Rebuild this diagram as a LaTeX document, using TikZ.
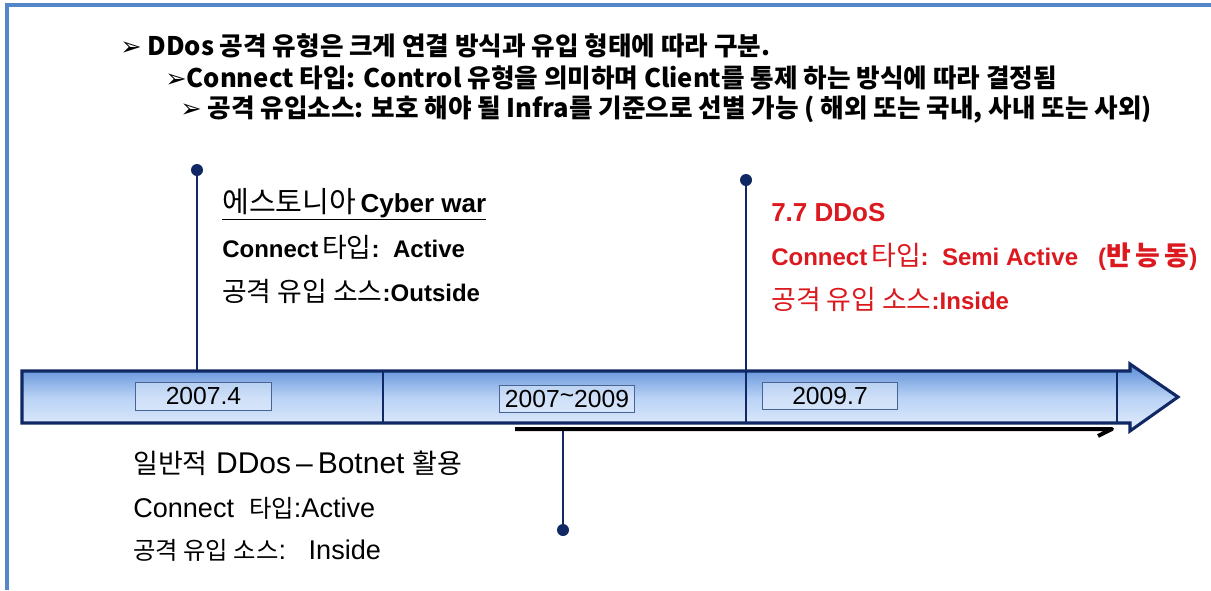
\documentclass[tikz,border=0pt]{standalone}
\usepackage{fontspec}
\setmainfont{Liberation Sans}
\newfontfamily\kr{Noto Sans CJK KR}
\newfontfamily\krA{Noto Sans CJK KR}[Scale=1.12]
\newfontfamily\krB{Noto Sans CJK KR}[Scale=0.9]
\newfontfamily\ar{Liberation Sans}
\newfontfamily\djv{DejaVu Sans}
\definecolor{navy}{RGB}{16,40,100}
\definecolor{framec}{RGB}{85,135,200}
\definecolor{redt}{RGB}{220,25,30}
\definecolor{barTop}{RGB}{90,140,215}
\definecolor{barMid}{RGB}{185,210,245}
\definecolor{barBot}{RGB}{228,238,252}
\definecolor{boxc}{RGB}{70,100,150}
\tikzset{
  hdr/.style={anchor=west, inner sep=0pt, font=\kr\bfseries\fontsize{19.2}{22}\selectfont},
  blk/.style={anchor=west, inner sep=0pt, font=\fontsize{18}{21}\selectfont},
  ttl/.style={anchor=west, inner sep=0pt, font=\fontsize{19.5}{22}\selectfont},
  blkB/.style={anchor=west, inner sep=0pt, font=\fontsize{20.3}{23}\selectfont},
  ttlB/.style={anchor=west, inner sep=0pt, font=\fontsize{22.5}{25}\selectfont},
  pindot/.style={circle, fill=navy, inner sep=0pt, minimum size=9pt},
  pinline/.style={navy, line width=2pt},
  datebox/.style={draw=boxc, line width=0.6pt, fill=barBot, fill opacity=0.5, text opacity=1,
    minimum width=101.5pt, minimum height=20.5pt, inner sep=0pt, font=\ar\fontsize{18.5}{20}\selectfont},
  divider/.style={navy, line width=2pt}
}
\newcommand{\bul}{{\djv\bfseries ➢}}
\begin{document}
\begin{tikzpicture}[x=0.75pt,y=-0.75pt]
\useasboundingbox (0,0) rectangle (1211,590);
\fill[white] (0,0) rectangle (1211,590);
% frame
\draw[framec, line width=2.3pt] (7,590) -- (7,5) -- (1211,5);
% header
\node[hdr] (h1) at (120,46) {\bul\ DDos 공격 유형은 크게 연결 방식과 유입 형태에 따라 구분.};
\node[hdr] (h2) at (165,78) {\bul Connect 타입: Control 유형을 의미하며 Client를 통제 하는 방식에 따라 결정됨};
\node[hdr] (h3) at (180,110) {\bul\ 공격 유입소스: 보호 해야 될 Infra를 기준으로 선별 가능 ( 해외 또는 국내, 사내 또는 사외)};
% shadow line
\coordinate (s1) at (515,429);
\coordinate (s2) at (1112,429);
\coordinate (s3) at (1098,436);
\draw[black, line width=3pt, line join=round] (s1) -- (s2) -- (s3);
% bar arrow
\path[top color=barTop, bottom color=barBot, middle color=barMid, draw=navy, line width=2.3pt, line join=miter]
  (22,371) -- (1130,371) -- (1130,364) -- (1178,397) -- (1130,431) -- (1130,423) -- (22,423) -- cycle;
\draw[divider] (383,371) -- (383,423);
\draw[divider] (1117,371) -- (1117,423);
% pins
\node[pindot] (d1) at (197,170) {};
\coordinate (b1) at (197,371);
\draw[pinline] (d1) -- (b1);
\node[pindot] (d2) at (746,180) {};
\coordinate (b2) at (746,423);
\draw[pinline] (d2) -- (b2);
\node[pindot] (d3) at (563,530) {};
\coordinate (b3) at (563,431);
\draw[pinline] (b3) -- (d3);
% date boxes
\node[datebox] (t1) at (203.5,396.5) {2007.4};
\node[datebox] (t2) at (567,399) {2007\raisebox{0.3ex}{\~{}}2009};
\node[datebox] (t3) at (830,396) {2009.7};
% block 1
\node[ttl] (a1) at (222,204) {\underline{{\krA 에스토니아}\,{\bfseries Cyber war}}};
\node[blk] (a2) at (222,247) {{\bfseries Connect}\,{\krA 타입}{\bfseries:\ \ Active}};
\node[blk] (a3) at (222,291) {{\krA 공격 유입 소스}{\bfseries:Outside}};
% block 2
\node[ttl, text=redt] (c1) at (771,213) {\bfseries 7.7 DDoS};
\node[blk, text=redt] (c2) at (771,257) {{\bfseries Connect}\,{\krA 타입}{\bfseries:\ \ Semi Active\ \ \ (}{\krA\bfseries 반\,능\,동}{\bfseries )}};
\node[blk, text=redt] (c3) at (771,299) {{\krA 공격 유입 소스}{\bfseries:Inside}};
% block 3
\node[ttlB] (e1) at (133,463) {{\krB 일반적} DDos\,--\,Botnet {\krB 활용}};
\node[blkB] (e2) at (133,508) {Connect\ \ {\krB 타입}:Active};
\node[blkB] (e3) at (133,550) {{\krB 공격\ 유입\ 소스}:\ \ \ Inside};
\end{tikzpicture}
\end{document}
